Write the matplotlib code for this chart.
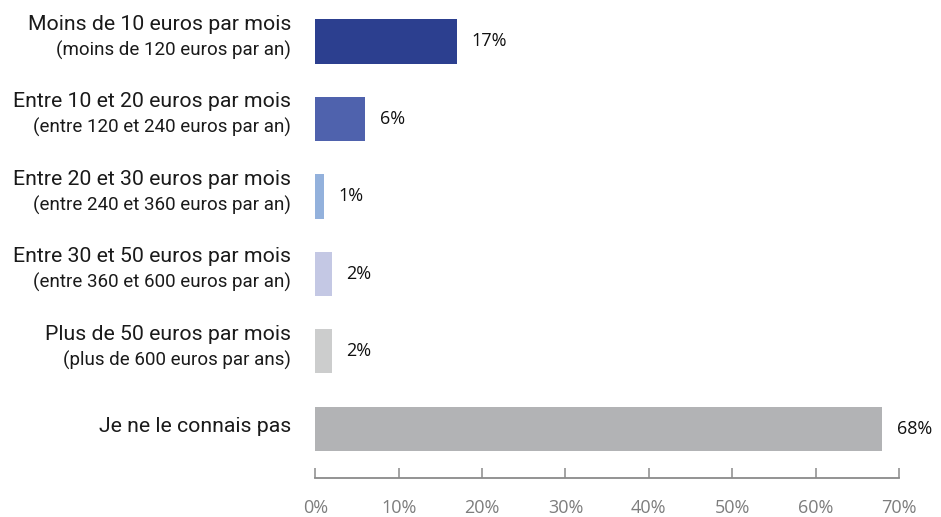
import matplotlib
matplotlib.use("Agg")
import matplotlib.pyplot as plt

# Monthly budget categories (main line, detail line) and shares in %
main_labels = [
    "Moins de 10 euros par mois",
    "Entre 10 et 20 euros par mois",
    "Entre 20 et 30 euros par mois",
    "Entre 30 et 50 euros par mois",
    "Plus de 50 euros par mois",
    "Je ne le connais pas",
]
sub_labels = [
    "(moins de 120 euros par an)",
    "(entre 120 et 240 euros par an)",
    "(entre 240 et 360 euros par an)",
    "(entre 360 et 600 euros par an)",
    "(plus de 600 euros par ans)",
    "",
]
values = [17, 6, 1, 2, 2, 68]
bar_colors = ["#2c3f8f", "#4f62ad", "#93b1dc", "#c4c8e4", "#cccdcd", "#b2b3b5"]
tick_values = [0, 10, 20, 30, 40, 50, 60, 70]
tick_labels = [f"{v}%" for v in tick_values]

plt.rcParams["font.family"] = ["Open Sans", "DejaVu Sans"]
label_font = ["Roboto", "DejaVu Sans"]

fig = plt.figure(figsize=(9.41, 5.17), dpi=100)
ax = fig.add_axes([0.3351, 0.076, 0.9554 - 0.3351, 0.9947 - 0.076])

ypos = list(range(len(values)))
ax.barh(ypos, values, height=0.57, color=bar_colors, left=0)

ax.set_xlim(0, 70)
ax.set_ylim(5.63, -0.5)

for y, v in zip(ypos, values):
    ax.annotate(f"{v}%", xy=(v, y), xytext=(10.5, 0), textcoords="offset points",
                ha="left", va="center", fontsize=13, color="#111111")

for y, m, s in zip(ypos, main_labels, sub_labels):
    if s:
        ax.annotate(m, xy=(0, y), xycoords=("axes fraction", "data"),
                    xytext=(-17.5, 12.3), textcoords="offset points",
                    ha="right", va="center", fontsize=15.3, color="#1a1a1a",
                    family=label_font)
        ax.annotate(s, xy=(0, y), xycoords=("axes fraction", "data"),
                    xytext=(-17.5, -6.3), textcoords="offset points",
                    ha="right", va="center", fontsize=13.5, color="#1a1a1a",
                    family=label_font)
    else:
        ax.annotate(m, xy=(0, y), xycoords=("axes fraction", "data"),
                    xytext=(-17.5, 1.5), textcoords="offset points",
                    ha="right", va="center", fontsize=15.3, color="#1a1a1a",
                    family=label_font)

for side in ["top", "right", "left"]:
    ax.spines[side].set_visible(False)
ax.spines["bottom"].set_color("#8a8a8a")
ax.spines["bottom"].set_linewidth(1.3)

ax.set_xticks(tick_values)
ax.set_xticklabels(tick_labels)
ax.tick_params(axis="x", direction="in", length=7, width=1.1, color="#8a8a8a",
               labelcolor="#7d7d7d", labelsize=13, pad=15)
ax.set_yticks([])

fig.savefig("out.png", dpi=100)
